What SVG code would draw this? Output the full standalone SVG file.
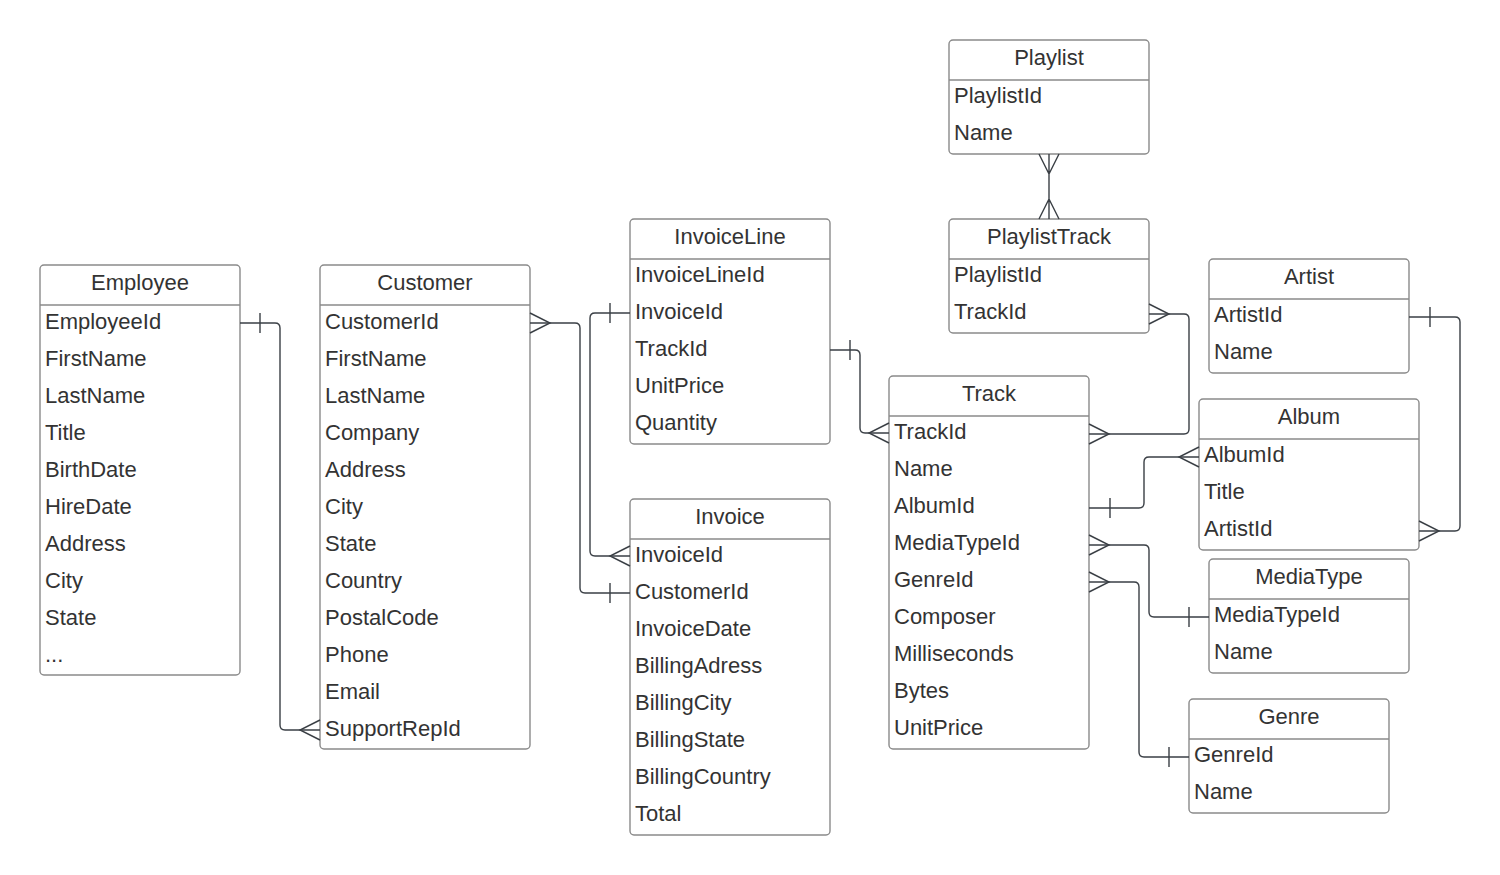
<svg xmlns="http://www.w3.org/2000/svg" width="1500" height="875" viewBox="0 0 1500 875">
<style>
.box{fill:#fff;stroke:#8a8a8a;stroke-width:1.4}
.sep{stroke:#8a8a8a;stroke-width:1.4}
text{font-family:"Liberation Sans",Arial,sans-serif;font-size:22px;fill:#333}
.t{text-anchor:middle}
.c path{fill:none;stroke:#3a3f45;stroke-width:1.4}
</style>
<rect width="1500" height="875" fill="#fff"/>
<g id="Employee">
<rect class="box" x="40" y="265" width="200" height="410" rx="4"/>
<line class="sep" x1="40" y1="305" x2="240" y2="305"/>
<text class="t" x="140" y="290">Employee</text>
<text x="45" y="329">EmployeeId</text><text x="45" y="366">FirstName</text><text x="45" y="403">LastName</text><text x="45" y="440">Title</text><text x="45" y="477">BirthDate</text><text x="45" y="514">HireDate</text><text x="45" y="551">Address</text><text x="45" y="588">City</text><text x="45" y="625">State</text><text x="45" y="662">...</text>
</g>
<g id="Customer">
<rect class="box" x="320" y="265" width="210" height="484" rx="4"/>
<line class="sep" x1="320" y1="305" x2="530" y2="305"/>
<text class="t" x="425" y="290">Customer</text>
<text x="325" y="329">CustomerId</text><text x="325" y="366">FirstName</text><text x="325" y="403">LastName</text><text x="325" y="440">Company</text><text x="325" y="477">Address</text><text x="325" y="514">City</text><text x="325" y="551">State</text><text x="325" y="588">Country</text><text x="325" y="625">PostalCode</text><text x="325" y="662">Phone</text><text x="325" y="699">Email</text><text x="325" y="736">SupportRepId</text>
</g>
<g id="InvoiceLine">
<rect class="box" x="630" y="219" width="200" height="225" rx="4"/>
<line class="sep" x1="630" y1="259" x2="830" y2="259"/>
<text class="t" x="730" y="244">InvoiceLine</text>
<text x="635" y="282">InvoiceLineId</text><text x="635" y="319">InvoiceId</text><text x="635" y="356">TrackId</text><text x="635" y="393">UnitPrice</text><text x="635" y="430">Quantity</text>
</g>
<g id="Invoice">
<rect class="box" x="630" y="499" width="200" height="336" rx="4"/>
<line class="sep" x1="630" y1="539" x2="830" y2="539"/>
<text class="t" x="730" y="524">Invoice</text>
<text x="635" y="562">InvoiceId</text><text x="635" y="599">CustomerId</text><text x="635" y="636">InvoiceDate</text><text x="635" y="673">BillingAdress</text><text x="635" y="710">BillingCity</text><text x="635" y="747">BillingState</text><text x="635" y="784">BillingCountry</text><text x="635" y="821">Total</text>
</g>
<g id="Playlist">
<rect class="box" x="949" y="40" width="200" height="114" rx="4"/>
<line class="sep" x1="949" y1="80" x2="1149" y2="80"/>
<text class="t" x="1049" y="65">Playlist</text>
<text x="954" y="103">PlaylistId</text><text x="954" y="140">Name</text>
</g>
<g id="PlaylistTrack">
<rect class="box" x="949" y="219" width="200" height="114" rx="4"/>
<line class="sep" x1="949" y1="259" x2="1149" y2="259"/>
<text class="t" x="1049" y="244">PlaylistTrack</text>
<text x="954" y="282">PlaylistId</text><text x="954" y="319">TrackId</text>
</g>
<g id="Artist">
<rect class="box" x="1209" y="259" width="200" height="114" rx="4"/>
<line class="sep" x1="1209" y1="299" x2="1409" y2="299"/>
<text class="t" x="1309" y="284">Artist</text>
<text x="1214" y="322">ArtistId</text><text x="1214" y="359">Name</text>
</g>
<g id="Track">
<rect class="box" x="889" y="376" width="200" height="373" rx="4"/>
<line class="sep" x1="889" y1="416" x2="1089" y2="416"/>
<text class="t" x="989" y="401">Track</text>
<text x="894" y="439">TrackId</text><text x="894" y="476">Name</text><text x="894" y="513">AlbumId</text><text x="894" y="550">MediaTypeId</text><text x="894" y="587">GenreId</text><text x="894" y="624">Composer</text><text x="894" y="661">Milliseconds</text><text x="894" y="698">Bytes</text><text x="894" y="735">UnitPrice</text>
</g>
<g id="Album">
<rect class="box" x="1199" y="399" width="220" height="151" rx="4"/>
<line class="sep" x1="1199" y1="439" x2="1419" y2="439"/>
<text class="t" x="1309" y="424">Album</text>
<text x="1204" y="462">AlbumId</text><text x="1204" y="499">Title</text><text x="1204" y="536">ArtistId</text>
</g>
<g id="MediaType">
<rect class="box" x="1209" y="559" width="200" height="114" rx="4"/>
<line class="sep" x1="1209" y1="599" x2="1409" y2="599"/>
<text class="t" x="1309" y="584">MediaType</text>
<text x="1214" y="622">MediaTypeId</text><text x="1214" y="659">Name</text>
</g>
<g id="Genre">
<rect class="box" x="1189" y="699" width="200" height="114" rx="4"/>
<line class="sep" x1="1189" y1="739" x2="1389" y2="739"/>
<text class="t" x="1289" y="724">Genre</text>
<text x="1194" y="762">GenreId</text><text x="1194" y="799">Name</text>
</g>
<g id="connectors" class="c">
<path d="M240,323 H275 Q280,323 280,328 V725 Q280,730 285,730 H320"/>
<path d="M260,313 V333 M320,720 L300,730 L320,740"/>
<path d="M530,323 H575 Q580,323 580,328 V588 Q580,593 585,593 H630"/>
<path d="M530,313 L550,323 L530,333 M610,583 V603"/>
<path d="M630,313 H595 Q590,313 590,318 V551 Q590,556 595,556 H630"/>
<path d="M610,303 V323 M630,546 L610,556 L630,566"/>
<path d="M830,350 H855 Q860,350 860,355 V428 Q860,433 865,433 H889"/>
<path d="M850,340 V360 M889,423 L869,433 L889,443"/>
<path d="M1049,154 V219 M1039,154 L1049,174 L1059,154 M1039,219 L1049,199 L1059,219"/>
<path d="M1149,314 H1184 Q1189,314 1189,319 V429 Q1189,434 1184,434 H1089"/>
<path d="M1149,304 L1169,314 L1149,324 M1089,424 L1109,434 L1089,444"/>
<path d="M1089,508 H1139 Q1144,508 1144,503 V462 Q1144,457 1149,457 H1199"/>
<path d="M1110,498 V518 M1199,447 L1179,457 L1199,467"/>
<path d="M1409,317 H1455 Q1460,317 1460,322 V526 Q1460,531 1455,531 H1419"/>
<path d="M1430,307 V327 M1419,521 L1439,531 L1419,541"/>
<path d="M1089,545 H1144 Q1149,545 1149,550 V612 Q1149,617 1154,617 H1209"/>
<path d="M1089,535 L1109,545 L1089,555 M1189,607 V627"/>
<path d="M1089,582 H1134 Q1139,582 1139,587 V752 Q1139,757 1144,757 H1189"/>
<path d="M1089,572 L1109,582 L1089,592 M1169,747 V767"/>
</g>
</svg>
